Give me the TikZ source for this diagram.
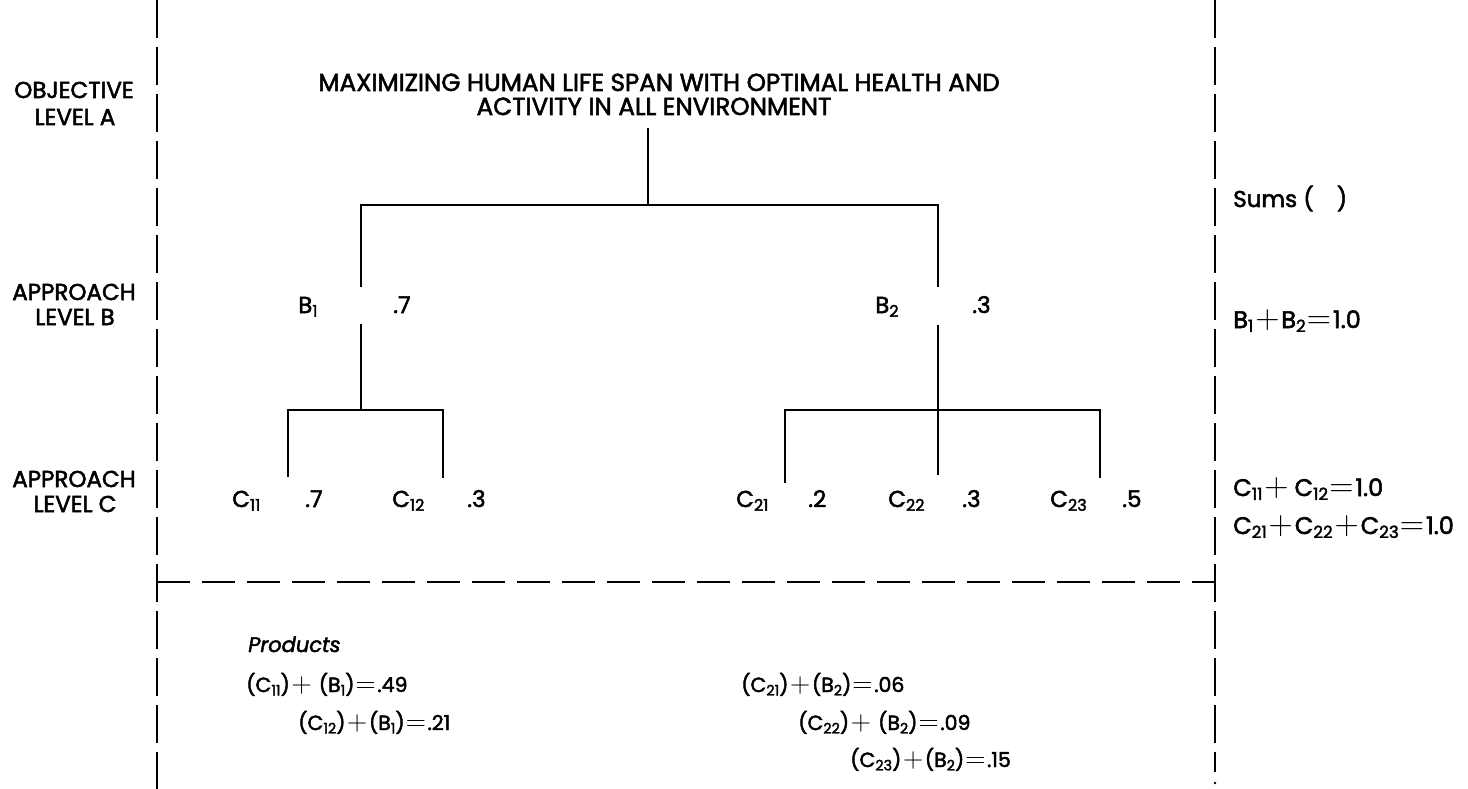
\documentclass[tikz,border=0pt]{standalone}
\usepackage{fontspec}
\setmainfont{Poppins}[UprightFeatures={FakeBold=2.2},ItalicFeatures={FakeBold=2.2}]
\newcommand\sbn[1]{\raisebox{-0.3ex}{\scalebox{0.7}{#1}}}
\newcommand\pl{\kern0.08em\scalebox{1.35}{$+$}\kern0.08em}
\newcommand\eq{\kern0.05em\scalebox{1.35}{$=$}\kern0.08em}
\begin{document}
\begin{tikzpicture}[x=1pt,y=-1pt,line width=2.5pt,
  txt/.style={inner sep=0pt,anchor=base west,font=\fontsize{23}{27}\selectfont},
  ctxt/.style={inner sep=0pt,anchor=base,font=\fontsize{23}{27}\selectfont},
  ptxt/.style={inner sep=0pt,anchor=base west,font=\fontsize{20.5}{25}\selectfont},
  stxt/.style={inner sep=0pt,anchor=base west,font=\fontsize{24}{28}\selectfont},
  frame/.style={dash pattern=on 38pt off 9pt},
  hdash/.style={dash pattern=on 33pt off 12pt}]
\useasboundingbox (0,0) rectangle (1468,789);

% frame lines
\coordinate (lt) at (157,0);
\coordinate (lb) at (157,789);
\coordinate (rt) at (1215,0);
\coordinate (rb) at (1215,772);
\coordinate (hl) at (157,582);
\coordinate (hr) at (1215,582);
\draw[frame] (lt) -- (lb);
\draw[frame] (rt) -- (rb);
\fill (1215,783) circle (1.4pt);
\draw[hdash] (hl) -- (hr);

% left labels
\node[ctxt] (oa1) at (74,98) {OBJECTIVE};
\node[ctxt] (oa2) at (75,125) {LEVEL A};
\node[ctxt] (ab1) at (74,300) {APPROACH};
\node[ctxt] (ab2) at (75,325) {LEVEL B};
\node[ctxt] (ac1) at (74,487) {APPROACH};
\node[ctxt] (ac2) at (75,512) {LEVEL C};

% title
\node[ctxt,font=\fontsize{24.6}{28}\selectfont] (ttl1) at (659,91) {MAXIMIZING HUMAN LIFE SPAN WITH OPTIMAL HEALTH AND};
\node[ctxt,font=\fontsize{24.6}{28}\selectfont] (ttl2) at (654,115) {ACTIVITY IN ALL ENVIRONMENT};

% tree
\coordinate (tA) at (648,128);
\coordinate (jA) at (648,205);
\coordinate (b1t) at (361,287);
\coordinate (b1b) at (361,324);
\coordinate (j1) at (361,410);
\coordinate (c11t) at (288,477);
\coordinate (c12t) at (443,478);
\coordinate (b2t) at (938,287);
\coordinate (b2b) at (938,325);
\coordinate (j2) at (938,410);
\coordinate (c21t) at (785,483);
\coordinate (c22t) at (938,475);
\coordinate (c23t) at (1100,478);
\draw (tA) -- (jA);
\draw (b1t) |- (jA) -| (b2t);
\draw (b1b) -- (j1);
\draw (c11t) |- (j1) -| (c12t);
\draw (b2b) -- (c22t);
\draw (c21t) |- (j2) -| (c23t);

% level B labels
\node[txt] (B1) at (297,313) {B\sbn{1}};
\node[txt] (w1) at (392,313) {.7};
\node[txt] (B2) at (874,313) {B\sbn{2}};
\node[txt] (w2) at (971,313) {.3};

% level C labels
\node[txt] (C11) at (231,507) {C\sbn{11}};
\node[txt] (w11) at (304,507) {.7};
\node[txt] (C12) at (391,507) {C\sbn{12}};
\node[txt] (w12) at (466,507) {.3};
\node[txt] (C21) at (735,507) {C\sbn{21}};
\node[txt] (w21) at (807,507) {.2};
\node[txt] (C22) at (887,507) {C\sbn{22}};
\node[txt] (w22) at (961,507) {.3};
\node[txt] (C23) at (1049,507) {C\sbn{23}};
\node[txt] (w23) at (1121,507) {.5};

% sums
\node[txt] (sums) at (1232,207) {Sums (\hspace{1em})};
\node[stxt] (sB) at (1232,328) {B\sbn{1}\pl B\sbn{2}\eq 1.0};
\node[stxt] (sC1) at (1232,496) {C\sbn{11}\pl\,C\sbn{12}\eq 1.0};
\node[stxt] (sC2) at (1232,534) {C\sbn{21}\pl C\sbn{22}\pl C\sbn{23}\eq 1.0};

% products
\node[ptxt,font=\fontsize{21}{25}\selectfont\itshape] (prod) at (247,652) {Products};
\node[ptxt] (p11) at (245,692) {(C\sbn{11})\pl\ (B\sbn{1})\eq .49};
\node[ptxt] (p12) at (297,730) {(C\sbn{12})\pl(B\sbn{1})\eq .21};
\node[ptxt] (p21) at (740,692) {(C\sbn{21})\pl(B\sbn{2})\eq .06};
\node[ptxt] (p22) at (797,730) {(C\sbn{22})\pl\ (B\sbn{2})\eq .09};
\node[ptxt] (p23) at (849,767) {(C\sbn{23})\pl(B\sbn{2})\eq .15};
\end{tikzpicture}
\end{document}
